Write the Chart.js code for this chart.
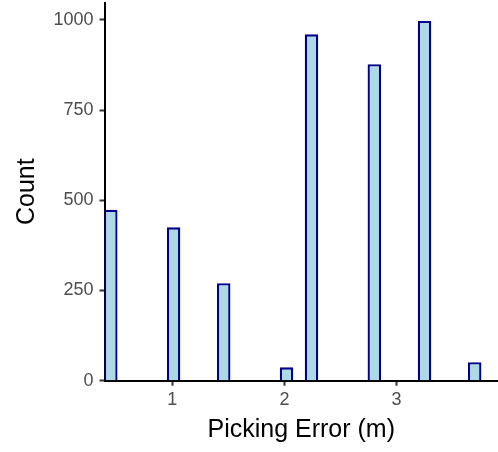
<!DOCTYPE html>
<html>
<head>
<meta charset="utf-8">
<title>Picking Error histogram</title>
<script src="https://cdn.jsdelivr.net/npm/chart.js@4/dist/chart.umd.min.js"></script>
<style>
  html, body { margin: 0; padding: 0; background: #fff; }
  #wrap { width: 498px; height: 452px; position: relative; }
</style>
</head>
<body>
<div id="wrap"><canvas id="histChart"></canvas></div>
<script>
/* global Chart */

// Histogram bins that have counts (bin centres in metres).
const binCenters = [0.451, 1.011, 1.458, 2.018, 2.241, 2.801, 3.249, 3.696];
const counts = [474, 425, 270, 37, 960, 877, 997, 51];

const xTicks = [1, 2, 3];
const yTicks = [0, 250, 500, 750, 1000];

const xLabel = "Picking Error (m)";
const yLabel = "Count";

function $(sel) {
  return document.querySelector(sel);
}

// Chart.js reserves room for edge labels; the ticks here never sit on the edges.
function dropEdgePadding(scale) {
  scale.paddingTop = 0;
  scale.paddingBottom = 0;
  scale.paddingLeft = 0;
  scale.paddingRight = 0;
}

function buildChart() {
  const points = binCenters.map((x, i) => ({ x, y: counts[i] }));
  const tickFont = { family: "'Liberation Sans', Arial, sans-serif", size: 18 };
  const titleFont = { family: "'Liberation Sans', Arial, sans-serif", size: 25 };

  return new Chart($("#histChart"), {
    type: "bar",
    data: {
      datasets: [
        {
          data: points,
          backgroundColor: "#ADD8E6",
          borderColor: "#00008B",
          borderWidth: 2.3,
          barPercentage: 0.54,
          categoryPercentage: 1
        }
      ]
    },
    options: {
      responsive: true,
      maintainAspectRatio: false,
      animation: false,
      devicePixelRatio: 1,
      layout: { padding: { top: 2.6, right: 0, bottom: 0, left: 0 } },
      plugins: {
        legend: { display: false },
        tooltip: { enabled: false }
      },
      scales: {
        x: {
          type: "linear",
          min: 0.395,
          max: 3.904,
          offset: false,
          afterBuildTicks: (axis) => {
            axis.ticks = xTicks.map(v => ({ value: v }));
          },
          afterFit: (scale) => {
            scale.height = 71.3;
            dropEdgePadding(scale);
          },
          grid: {
            display: true,
            offset: false,
            drawOnChartArea: false,
            drawTicks: true,
            tickLength: 5,
            tickWidth: 2,
            tickColor: "#333333"
          },
          border: { display: true, color: "#000", width: 2 },
          ticks: {
            color: "#4D4D4D",
            font: tickFont,
            padding: 3.3,
            maxRotation: 0,
            callback: (v) => String(v)
          },
          title: {
            display: true,
            text: xLabel,
            color: "#000",
            font: titleFont,
            padding: { top: 0, bottom: 7 }
          }
        },
        y: {
          min: 0,
          max: 1048,
          afterBuildTicks: (axis) => {
            axis.ticks = yTicks.map(v => ({ value: v }));
          },
          afterFit: (scale) => {
            scale.width = 104.5;
            dropEdgePadding(scale);
          },
          grid: {
            display: true,
            drawOnChartArea: false,
            drawTicks: true,
            tickLength: 5,
            tickWidth: 2,
            tickColor: "#333333"
          },
          border: { display: true, color: "#000", width: 2 },
          ticks: {
            color: "#4D4D4D",
            font: tickFont,
            padding: 6,
            callback: (v) => String(v)
          },
          title: {
            display: true,
            text: yLabel,
            color: "#000",
            font: titleFont,
            padding: { top: 12, bottom: 0 }
          }
        }
      }
    }
  });
}

function main() {
  try {
    buildChart();
  } catch (err) {
    console.error(err);
  }
}

document.addEventListener("DOMContentLoaded", main);
</script>
</body>
</html>
